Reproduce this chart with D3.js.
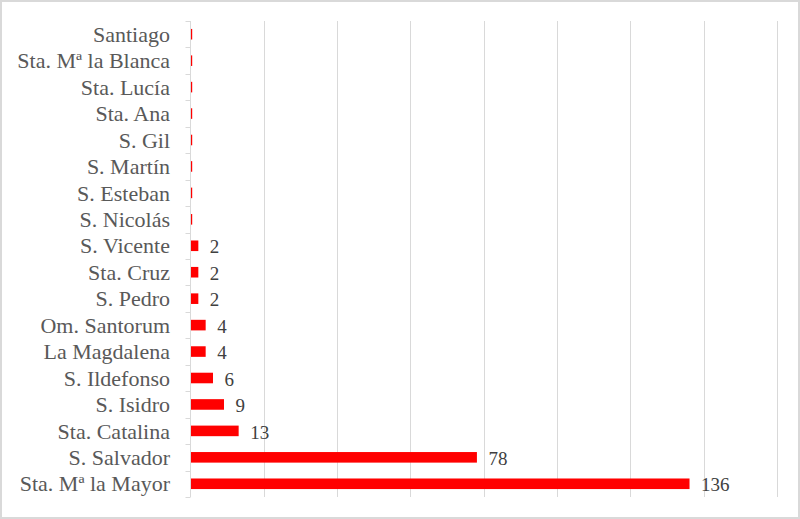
<!DOCTYPE html>
<html>
<head>
<meta charset="utf-8">
<script src="https://cdn.jsdelivr.net/npm/d3@7"></script>
<style>
html,body{margin:0;padding:0;background:#fff;}
svg{display:block;}
</style>
</head>
<body>
<svg id="chart" width="800" height="519"></svg>
<script>
const categories = ["Santiago","Sta. Mª la Blanca","Sta. Lucía","Sta. Ana","S. Gil","S. Martín","S. Esteban","S. Nicolás","S. Vicente","Sta. Cruz","S. Pedro","Om. Santorum","La Magdalena","S. Ildefonso","S. Isidro","Sta. Catalina","S. Salvador","Sta. Mª la Mayor"];
const values = [0,0,0,0,0,0,0,0,2,2,2,4,4,6,9,13,78,136];
const xTicks = [0,20,40,60,80,100,120,140,160];

const FONT = '"Liberation Serif"';
const svg = d3.select("#chart");
const W = 800, H = 519;
const m = {left:190.5, right:23, top:21, bottom:22};

// outer border
svg.append("rect").attr("x",1).attr("y",1).attr("width",W-2).attr("height",H-2)
  .attr("fill","#fff").attr("stroke","#d9d9d9").attr("stroke-width",2);

const x = d3.scaleLinear().domain([0,160]).range([m.left, W-m.right]);
const y = d3.scaleBand().domain(categories).range([m.top, H-m.bottom]).paddingInner(0.6).paddingOuter(0.3);
const yb = d3.scaleBand().domain(categories).range([m.top, H-m.bottom]);

// gridlines
svg.append("g").selectAll("line").data(xTicks.slice(1)).join("line")
  .attr("x1",d=>Math.round(x(d))+0.5).attr("x2",d=>Math.round(x(d))+0.5)
  .attr("y1",m.top).attr("y2",H-m.bottom)
  .attr("stroke","#d9d9d9").attr("stroke-width",1);

// axis line + ticks at band boundaries
const ax = svg.append("g");
ax.append("line").attr("x1",m.left).attr("x2",m.left).attr("y1",m.top).attr("y2",H-m.bottom)
  .attr("stroke","#d9d9d9").attr("stroke-width",1);
const bounds = categories.map(c=>yb(c)).concat([yb(categories[categories.length-1])+yb.bandwidth()]);
ax.selectAll("line.t").data(bounds).join("line").attr("class","t")
  .attr("x1",m.left-5).attr("x2",m.left).attr("y1",d=>Math.round(d)+0.5).attr("y2",d=>Math.round(d)+0.5)
  .attr("stroke","#d9d9d9").attr("stroke-width",1);

// category labels
svg.append("g").selectAll("text").data(categories).join("text")
  .attr("x",170).attr("y",d=>yb(d)+yb.bandwidth()/2)
  .attr("dy","0.35em").attr("text-anchor","end")
  .style("font-family",FONT).style("font-size","22px")
  .attr("fill","#595959").text(d=>d);

// bars
svg.append("g").selectAll("rect").data(categories).join("rect")
  .attr("x",x(0)+0.5)
  .attr("y",d=>y(d))
  .attr("width",(d,i)=>Math.max(x(values[i])-x(0),1.2))
  .attr("height",y.bandwidth())
  .attr("fill","#ff0000");

// value labels
svg.append("g").selectAll("text").data(categories.filter((d,i)=>values[i]>0)).join("text")
  .attr("x",d=>x(values[categories.indexOf(d)])+12)
  .attr("y",d=>yb(d)+yb.bandwidth()/2+1)
  .attr("dy","0.35em")
  .style("font-family",FONT).style("font-size","19px")
  .attr("fill","#404040")
  .text(d=>values[categories.indexOf(d)]);
</script>
</body>
</html>
